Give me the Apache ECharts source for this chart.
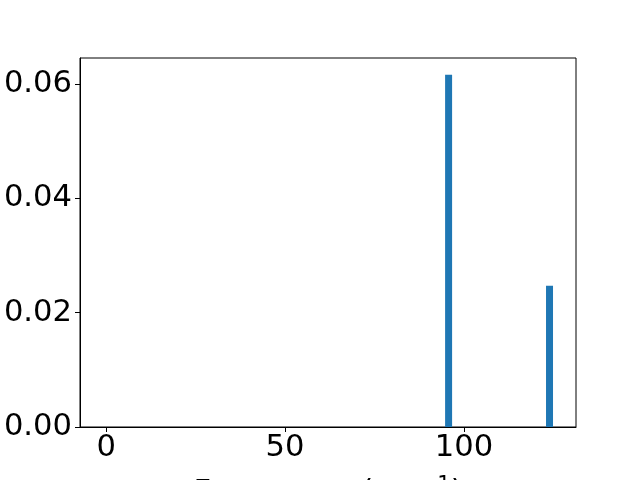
<!DOCTYPE html>
<html><head><meta charset="utf-8">
<script src="https://cdn.jsdelivr.net/npm/echarts@6/dist/echarts.min.js"></script>
<style>html,body{margin:0;padding:0;background:#fff}#c{width:640px;height:480px}</style>
</head><body><div id="c"></div>
<script>
const frequencies = [95.7, 123.9];
const intensities = [0.0616, 0.0247];
const xTicks = [0, 50, 100];
const yTicks = [0, 0.02, 0.04, 0.06];

const chart = echarts.init(document.getElementById('c'), null, {renderer: 'canvas'});
const font = 'DejaVu Sans';
const fs = 30.6;
chart.setOption({
  animation: false,
  backgroundColor: '#fff',
  grid: {left: 80, top: 58, right: 64, bottom: 53, show: true, borderColor: '#000', borderWidth: 1, backgroundColor: 'transparent', containLabel: false, outerBoundsMode: 'none'},
  xAxis: {
    type: 'value', min: -7.3, max: 131.3,
    name: 'Frequency (cm{s|−1})',
    nameLocation: 'middle', nameGap: 48,
    nameTextStyle: {fontFamily: font, fontSize: fs, color: '#000', rich: {s: {fontFamily: font, fontSize: 21, verticalAlign: 'top', padding: [0,0,16,0], color: '#000'}}},
    axisLine: {show: true, onZero: false, lineStyle: {color: '#000', width: 1}},
    axisTick: {show: true, inside: false, length: 5, lineStyle: {color: '#000'}, customValues: xTicks},
    axisLabel: {show: true, fontFamily: font, fontSize: fs, color: '#000', margin: 6, customValues: xTicks, formatter: v => String(v)},
    splitLine: {show: false}
  },
  yAxis: {
    type: 'value', min: 0, max: 0.06455,
    axisLine: {show: true, onZero: false, lineStyle: {color: '#000', width: 1}},
    axisTick: {show: true, length: 5, lineStyle: {color: '#000'}, customValues: yTicks},
    axisLabel: {show: true, fontFamily: font, fontSize: fs, color: '#000', margin: 8, customValues: yTicks, formatter: v => v.toFixed(2)},
    splitLine: {show: false}
  },
  series: [{
    type: 'bar',
    data: frequencies.map((f, i) => [f, intensities[i]]),
    barWidth: 7,
    itemStyle: {color: '#1f77b4'}
  }]
});
</script></body></html>
